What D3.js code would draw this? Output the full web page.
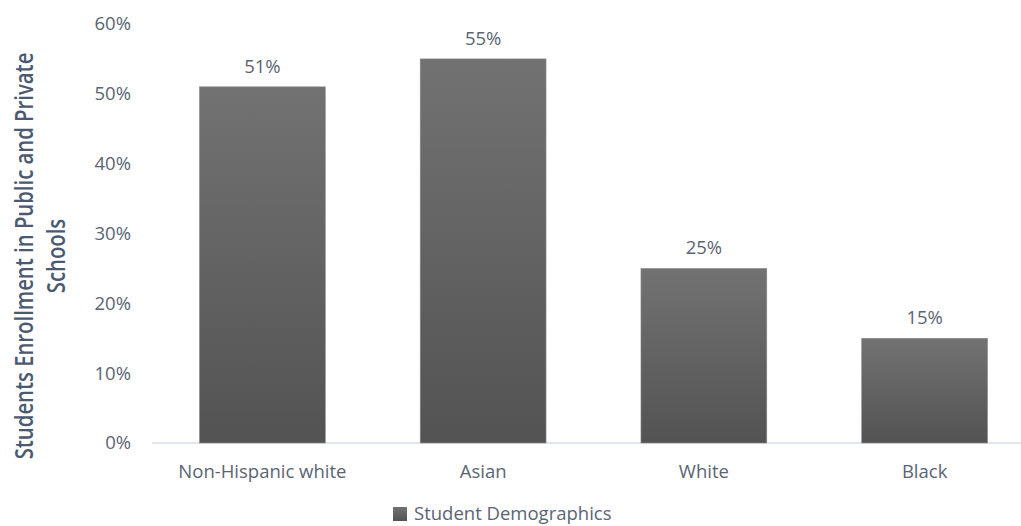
<!DOCTYPE html>
<html>
<head>
<meta charset="utf-8">
<script src="https://cdn.jsdelivr.net/npm/d3@7/dist/d3.min.js"></script>
<style>
body { margin: 0; background: #fff; }
text { font-family: "Open Sans", sans-serif; }
</style>
</head>
<body>
<script>
var wd = 1021
var ht = 526

var categories = ["Non-Hispanic white", "Asian", "White", "Black"]
var values = [0.51, 0.55, 0.25, 0.15]
var yTicks = [0, 0.1, 0.2, 0.3, 0.4, 0.5, 0.6]
var seriesName = "Student Demographics"
var axisTitle = ["Students Enrollment in Public and Private", "Schools"]

var textCol = "#5b6473"

var svgCont = d3.select("body").append("svg")
.attr("width", wd)
.attr("height", ht)

var defs = svgCont.append("defs")
var grad = defs.append("linearGradient")
.attr("id", "barGrad")
.attr("x1", 0).attr("y1", 0).attr("x2", 0).attr("y2", 1)
grad.append("stop").attr("offset", "0%").attr("stop-color", "#727272")
grad.append("stop").attr("offset", "100%").attr("stop-color", "#535353")

var x = d3.scaleBand()
.domain(categories)
.range([152, 1035])
.paddingInner(0.43)
.paddingOuter(0.215)

var y = d3.scaleLinear()
.domain([0, 0.6])
.range([443, 24])

// y tick labels
var yAxis = d3.axisLeft(y)
.tickValues(yTicks)
.tickFormat(d3.format(".0%"))
.tickSize(0)
.tickPadding(0)

var yg = svgCont.append("g")
.attr("transform", "translate(131,0)")
.call(yAxis)
yg.select(".domain").remove()
yg.selectAll("text")
.attr("fill", textCol)
.style("font-size", "18.5px")

// baseline
svgCont.append("line")
.attr("x1", 152).attr("x2", wd)
.attr("y1", y(0)).attr("y2", y(0))
.attr("stroke", "#d9dde4")
.attr("stroke-width", 1.5)

// bars
svgCont.selectAll(".bar")
.data(values)
.enter().append("rect")
.attr("class", "bar")
.attr("x", function(d, i) { return x(categories[i]) })
.attr("width", x.bandwidth())
.attr("y", function(d) { return y(d) })
.attr("height", function(d) { return y(0) - y(d) })
.attr("fill", "url(#barGrad)")
.attr("stroke", "#8a8a8a")
.attr("stroke-width", 0.6)

// value labels
svgCont.selectAll(".vlab")
.data(values)
.enter().append("text")
.attr("class", "vlab")
.attr("x", function(d, i) { return x(categories[i]) + x.bandwidth()/2 })
.attr("y", function(d) { return y(d) - 14 })
.attr("text-anchor", "middle")
.attr("fill", textCol)
.style("font-size", "18.5px")
.text(function(d) { return Math.round(d*100) + "%" })

// x axis labels
var xAxis = d3.axisBottom(x).tickSize(0).tickPadding(0)
var xg = svgCont.append("g")
.attr("transform", "translate(0," + 478 + ")")
.call(xAxis)
xg.select(".domain").remove()
xg.selectAll("text")
.attr("dy", 0)
.attr("fill", textCol)
.style("font-size", "18.5px")

// axis title (stretched across, like the original)
var title = svgCont.append("text")
.attr("transform", "translate(0,256) rotate(-90) scale(1,1.25)")
.attr("text-anchor", "middle")
.attr("fill", "#4b5a70")
.style("font-size", "20.3px")
.style("font-weight", "600")
title.selectAll("tspan")
.data(axisTitle)
.enter().append("tspan")
.attr("x", 0)
.attr("y", function(d, i) { return 26.4 + i*25.6 })
.text(function(d) { return d })

// legend
var lg = svgCont.append("g").attr("transform", "translate(393,520)")
lg.append("rect")
.attr("x", 0).attr("y", -13)
.attr("width", 14).attr("height", 14)
.attr("fill", "url(#barGrad)")
lg.append("text")
.attr("x", 21).attr("y", 0)
.attr("fill", textCol)
.style("font-size", "18.5px")
.text(seriesName)
</script>
</body>
</html>
